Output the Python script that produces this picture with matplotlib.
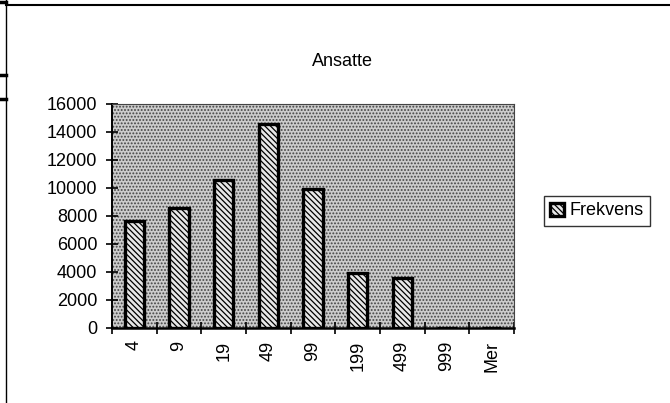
import numpy as np
import matplotlib
matplotlib.use("Agg")
import matplotlib.pyplot as plt
from matplotlib.lines import Line2D

plt.rcParams['font.family'] = ['Liberation Sans', 'DejaVu Sans']
plt.rcParams['hatch.linewidth'] = 0.9

# data
kategorier = ['4', '9', '19', '49', '99', '199', '499', '999', 'Mer']
frekvens = [7650, 8600, 10550, 14600, 9900, 3950, 3550, 0, 0]
yticks = [0, 2000, 4000, 6000, 8000, 10000, 12000, 14000, 16000]

W, H = 670, 403
fig = plt.figure(figsize=(W / 100, H / 100), dpi=100)
ax = fig.add_axes([112 / W, 1 - 328 / H, (514 - 112) / W, (328 - 104) / H])

# stippled plot area
ax.patch.set_facecolor('#cccccc')
ax.patch.set_hatch('.....')
ax.patch.set_edgecolor('#444444')

x = np.arange(len(kategorier))
bars = ax.bar(x, frekvens, width=0.43, color='#e8e8e8', edgecolor='black',
              linewidth=2.4, hatch='\\\\\\\\\\\\', label='Frekvens', zorder=3)

ax.set_xlim(-0.5, len(kategorier) - 0.5)
ax.set_ylim(0, 16000)
ax.set_yticks(yticks)
ax.set_yticklabels([str(v) for v in yticks], fontsize=13)
ax.set_xticks(x)
ax.set_xticklabels(kategorier, rotation=90, fontsize=13)
ax.set_xticks(np.arange(len(kategorier) + 1) - 0.5, minor=True)
ax.tick_params(axis='x', which='major', length=0, pad=9)
ax.tick_params(axis='x', which='minor', length=9, width=1.2, direction='inout')
ax.tick_params(axis='y', length=9, width=1.2, direction='inout', pad=6)

for side in ['top', 'right']:
    ax.spines[side].set_linewidth(0.8)
    ax.spines[side].set_color('#444444')
ax.spines['left'].set_linewidth(1.4)
ax.spines['bottom'].set_linewidth(1.8)

fig.text(342 / W, 1 - 61 / H, 'Ansatte', ha='center', va='center', fontsize=13)

leg = fig.legend(handles=[bars], labels=['Frekvens'], loc='center',
                 bbox_to_anchor=(597 / W, 1 - 211 / H), fontsize=13,
                 frameon=True, fancybox=False, edgecolor='black',
                 handlelength=0.75, handleheight=0.75, handletextpad=0.35,
                 borderpad=0.35, borderaxespad=0)
leg.get_frame().set_linewidth(1.0)

# page border lines of the scanned sheet
fig.add_artist(Line2D([6 / W, 1], [1 - 5 / H, 1 - 5 / H], color='black', lw=1.5))
fig.add_artist(Line2D([6 / W, 6 / W], [0, 1], color='black', lw=1.0))
for yy in [2, 75, 99]:
    fig.add_artist(Line2D([0, 6 / W], [1 - yy / H, 1 - yy / H], color='black', lw=2.5))

fig.savefig('out.png', dpi=100)
